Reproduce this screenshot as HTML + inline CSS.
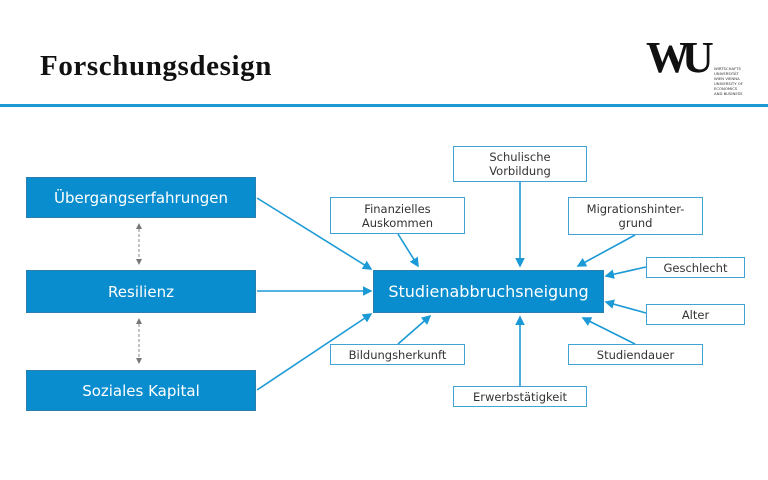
<!DOCTYPE html>
<html><head><meta charset="utf-8"><style>
body{margin:0;width:768px;height:480px;background:#fff;position:relative;overflow:hidden;font-family:"DejaVu Sans","Liberation Sans",sans-serif}
.t{position:absolute;left:40px;top:50px;font-family:"Liberation Serif",serif;font-weight:bold;font-size:29px;letter-spacing:0.6px;color:#111}
.hl{position:absolute;left:0;top:104px;width:768px;height:3px;background:#1b9ad6}
.b{position:absolute;background:#0a8dce;color:#fff;display:flex;align-items:center;justify-content:center;font-size:15px;border:1px solid #2a7fb0;box-sizing:border-box}
.w{position:absolute;background:#fff;color:#333;border:1px solid #3fa3d6;box-sizing:border-box;display:flex;align-items:center;justify-content:center;text-align:center;font-size:11.5px;line-height:14px}
</style></head><body>
<div class="t">Forschungsdesign</div>
<div style="position:absolute;left:646px;top:36px;font-family:'Liberation Serif',serif;font-weight:bold;font-size:44px;letter-spacing:-8px;color:#111;line-height:44px">WU</div>
<div style="position:absolute;left:714px;top:66px;font-size:3.8px;line-height:5px;color:#333">WIRTSCHAFTS<br>UNIVERSITÄT<br>WIEN VIENNA<br>UNIVERSITY OF<br>ECONOMICS<br>AND BUSINESS</div>
<div class="hl"></div>
<svg width="768" height="480" style="position:absolute;left:0;top:0">
<defs><marker id="a" markerWidth="6" markerHeight="6" refX="5" refY="3" orient="auto"><path d="M0,0 L6,3 L0,6z" fill="#1b9ad6"/></marker>
<marker id="g" markerWidth="6" markerHeight="6" refX="5" refY="3" orient="auto-start-reverse"><path d="M0,0 L6,3 L0,6z" fill="#777"/></marker></defs>
<g stroke="#1b9ad6" stroke-width="1.6" marker-end="url(#a)">
<line x1="257" y1="198" x2="371" y2="269"/>
<line x1="257" y1="291" x2="371" y2="291"/>
<line x1="257" y1="390" x2="371" y2="314"/>
<line x1="398" y1="234" x2="418" y2="266"/>
<line x1="520" y1="182" x2="520" y2="266"/>
<line x1="635" y1="235" x2="578" y2="266"/>
<line x1="646" y1="267" x2="606" y2="276"/>
<line x1="646" y1="313" x2="606" y2="302"/>
<line x1="635" y1="344" x2="583" y2="318"/>
<line x1="520" y1="386" x2="520" y2="317"/>
<line x1="398" y1="344" x2="430" y2="316"/>
</g>
<g stroke="#888" stroke-width="1" stroke-dasharray="3,2" marker-start="url(#g)" marker-end="url(#g)">
<line x1="139" y1="224" x2="139" y2="264"/>
<line x1="139" y1="319" x2="139" y2="363"/>
</g>
</svg>
<div class="b" style="left:26px;top:177px;width:230px;height:41px">Übergangserfahrungen</div>
<div class="b" style="left:26px;top:270px;width:230px;height:43px">Resilienz</div>
<div class="b" style="left:26px;top:370px;width:230px;height:41px">Soziales Kapital</div>
<div class="b" style="left:373px;top:270px;width:231px;height:43px;font-size:16px">Studienabbruchsneigung</div>
<div class="w" style="left:453px;top:146px;width:134px;height:36px">Schulische<br>Vorbildung</div>
<div class="w" style="left:330px;top:197px;width:135px;height:37px">Finanzielles<br>Auskommen</div>
<div class="w" style="left:568px;top:197px;width:135px;height:38px">Migrationshinter-<br>grund</div>
<div class="w" style="left:646px;top:257px;width:99px;height:21px">Geschlecht</div>
<div class="w" style="left:646px;top:304px;width:99px;height:21px">Alter</div>
<div class="w" style="left:330px;top:344px;width:135px;height:21px">Bildungsherkunft</div>
<div class="w" style="left:568px;top:344px;width:135px;height:21px">Studiendauer</div>
<div class="w" style="left:453px;top:386px;width:134px;height:21px">Erwerbstätigkeit</div>
</body></html>
